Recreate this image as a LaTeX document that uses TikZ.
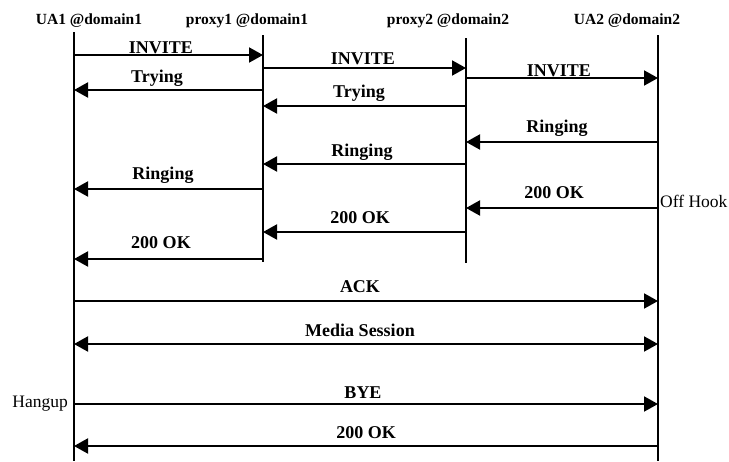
\documentclass[tikz,border=0pt]{standalone}
\usepackage{fontspec}
\setmainfont{Liberation Serif}
\usetikzlibrary{arrows.meta}

\tikzset{
  life/.style={line width=1.3pt},
  msg/.style={line width=2pt,-{Triangle[length=14pt,width=15pt]}},
  msgboth/.style={line width=2pt,{Triangle[length=14pt,width=15pt]}-{Triangle[length=14pt,width=15pt]}},
  lbl/.style={anchor=base,inner sep=0pt,font=\fontsize{18}{20}\selectfont\bfseries},
  head/.style={anchor=base,inner sep=0pt,font=\fontsize{15.5}{18}\selectfont\bfseries},
  side/.style={inner sep=0pt,font=\fontsize{17.5}{20}\selectfont}
}

\begin{document}
\begin{tikzpicture}[x=1pt,y=-1pt]
\useasboundingbox (0,0) rectangle (729,461);

% headers
\node[head] (h1) at (89,24) {UA1 @domain1};
\node[head] (h2) at (247,24) {proxy1 @domain1};
\node[head] (h3) at (448,24) {proxy2 @domain2};
\node[head] (h4) at (627,24) {UA2 @domain2};

% lifelines
\coordinate (ua1) at (74,32);  \coordinate (ua1end) at (74,461);
\coordinate (p1) at (263,35);  \coordinate (p1end) at (263,262);
\coordinate (p2) at (466,38);  \coordinate (p2end) at (466,263);
\coordinate (ua2) at (658,35); \coordinate (ua2end) at (658,461);
\draw[life] (ua1) -- (ua1end);
\draw[life] (p1) -- (p1end);
\draw[life] (p2) -- (p2end);
\draw[life] (ua2) -- (ua2end);

% invite
\draw[msg] (ua1 |- 0,55) -- (p1 |- 0,55);
\node[lbl] (inv1) at (161,53) {INVITE};
\draw[msg] (p1 |- 0,68) -- (p2 |- 0,68);
\node[lbl] (inv2) at (363,64) {INVITE};
\draw[msg] (p2 |- 0,78) -- (ua2 |- 0,78);
\node[lbl] (inv3) at (559,76) {INVITE};

% trying
\draw[msg] (p1 |- 0,90) -- (ua1 |- 0,90);
\node[lbl] (try1) at (157,82) {Trying};
\draw[msg] (p2 |- 0,106) -- (p1 |- 0,106);
\node[lbl] (try2) at (359,97) {Trying};

% ringing
\draw[msg] (ua2 |- 0,142) -- (p2 |- 0,142);
\node[lbl] (ring1) at (557,132) {Ringing};
\draw[msg] (p2 |- 0,164) -- (p1 |- 0,164);
\node[lbl] (ring2) at (362,156) {Ringing};
\draw[msg] (p1 |- 0,189) -- (ua1 |- 0,189);
\node[lbl] (ring3) at (163,179) {Ringing};

% 200 ok
\draw[msg] (ua2 |- 0,208) -- (p2 |- 0,208);
\node[lbl] (ok1) at (554,198) {200 OK};
\node[side,anchor=base west] (offhook) at (660,207) {Off Hook};
\draw[msg] (p2 |- 0,232) -- (p1 |- 0,232);
\node[lbl] (ok2) at (360,223) {200 OK};
\draw[msg] (p1 |- 0,259) -- (ua1 |- 0,259);
\node[lbl] (ok3) at (161,248) {200 OK};

% end to end
\draw[msg] (ua1 |- 0,301) -- (ua2 |- 0,301);
\node[lbl] (ack) at (360,292) {ACK};
\draw[msgboth] (ua1 |- 0,344) -- (ua2 |- 0,344);
\node[lbl] (media) at (360,336) {Media Session};
\draw[msg] (ua1 |- 0,404) -- (ua2 |- 0,404);
\node[lbl] (bye) at (363,398) {BYE};
\node[side,anchor=base east] (hangup) at (68,407) {Hangup};
\draw[msg] (ua2 |- 0,446) -- (ua1 |- 0,446);
\node[lbl] (ok4) at (366,438) {200 OK};
\end{tikzpicture}
\end{document}
